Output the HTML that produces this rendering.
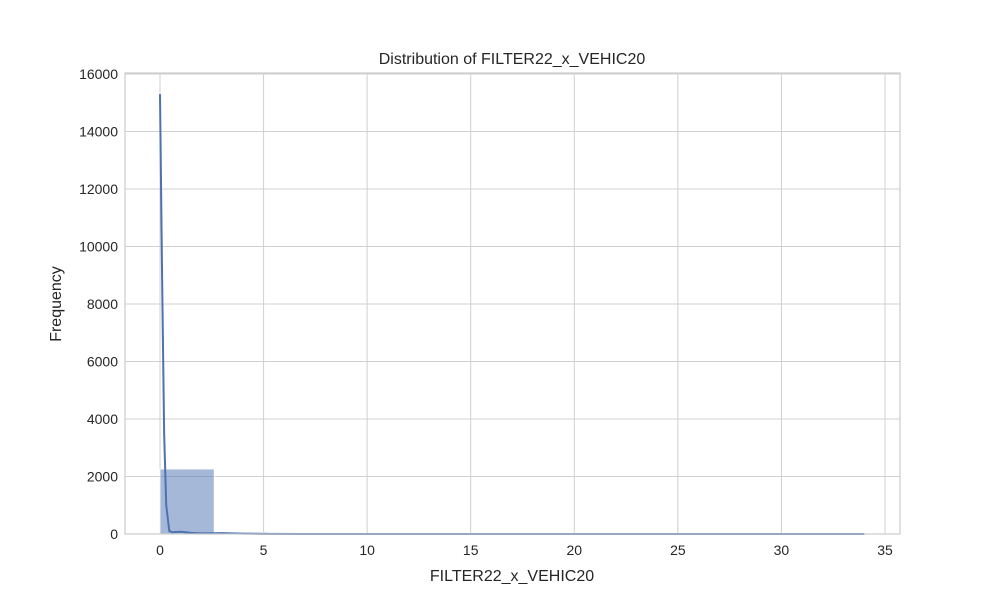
<!DOCTYPE html>
<html><head><meta charset="utf-8"><style>
body{margin:0;background:#fff;font-family:"Liberation Sans",sans-serif}
</style></head><body>
<svg width="1000" height="600" id="c" font-family="Liberation Sans, sans-serif"></svg>
<script>
const binEdges0=0, binWidth=34/13;
const binCounts=[2260,55,20,8,5,4,3,3,2,2,2,2,3];
const kdeX=[0,0.1,0.2,0.3,0.45,0.6,1.0,1.5,2,3,4,5,7,34];
const kdeY=[15300,9000,3500,1000,100,60,80,40,20,30,15,5,0,0];
const xTicks=[0,5,10,15,20,25,30,35];
const yTicks=[0,2000,4000,6000,8000,10000,12000,14000,16000];
const L=125,R=900,T=73,B=534;
const xs=v=>160+v*(885-160)/35;
const ys=v=>B-v*(B-74)/16000;
const svg=document.getElementById('c');const NS='http://www.w3.org/2000/svg';
function mk(t,a,p){const e=document.createElementNS(NS,t);for(const k in a)e.setAttribute(k,a[k]);(p||svg).appendChild(e);return e;}
mk('rect',{x:0,y:0,width:1000,height:600,fill:'#fff'});
xTicks.forEach(v=>{const g=mk('line',{x1:xs(v),x2:xs(v),y1:T,y2:B,stroke:'#d0d0d0','stroke-width':1});

const t=mk('text',{x:xs(v),y:B+21,'text-anchor':'middle','font-size':14,fill:'#262626'});t.textContent=v;
});
yTicks.forEach(v=>{const g=mk('line',{x1:L,x2:R,y1:ys(v),y2:ys(v),stroke:'#d0d0d0','stroke-width':1});

const t=mk('text',{x:L-7,y:ys(v)+5,'text-anchor':'end','font-size':14,fill:'#262626'});t.textContent=v;
});
binCounts.forEach((c,i)=>{const x0=xs(binEdges0+i*binWidth),x1=xs(binEdges0+(i+1)*binWidth);
const r=mk('rect',{x:x0,y:ys(c),width:x1-x0,height:B-ys(c),fill:'#4c72b0','fill-opacity':0.5,stroke:'#fff','stroke-width':0.8});
});
const p=mk('path',{d:kdeX.map((x,i)=>(i?'L':'M')+xs(x)+','+ys(kdeY[i])).join(''),fill:'none',stroke:'#4c72b0','stroke-width':2});

const f=mk('rect',{x:L,y:T,width:R-L,height:B-T,fill:'none',stroke:'#cccccc','stroke-width':1.2});

let t=mk('text',{x:512,y:64,'text-anchor':'middle','font-size':16,fill:'#262626'});t.textContent='Distribution of FILTER22_x_VEHIC20';

t=mk('text',{x:512,y:581,'text-anchor':'middle','font-size':16,fill:'#262626'});t.textContent='FILTER22_x_VEHIC20';

t=mk('text',{x:61,y:304,'text-anchor':'middle','font-size':16,fill:'#262626',transform:'rotate(-90 61 304)'});t.textContent='Frequency';

</script>
</body></html>
